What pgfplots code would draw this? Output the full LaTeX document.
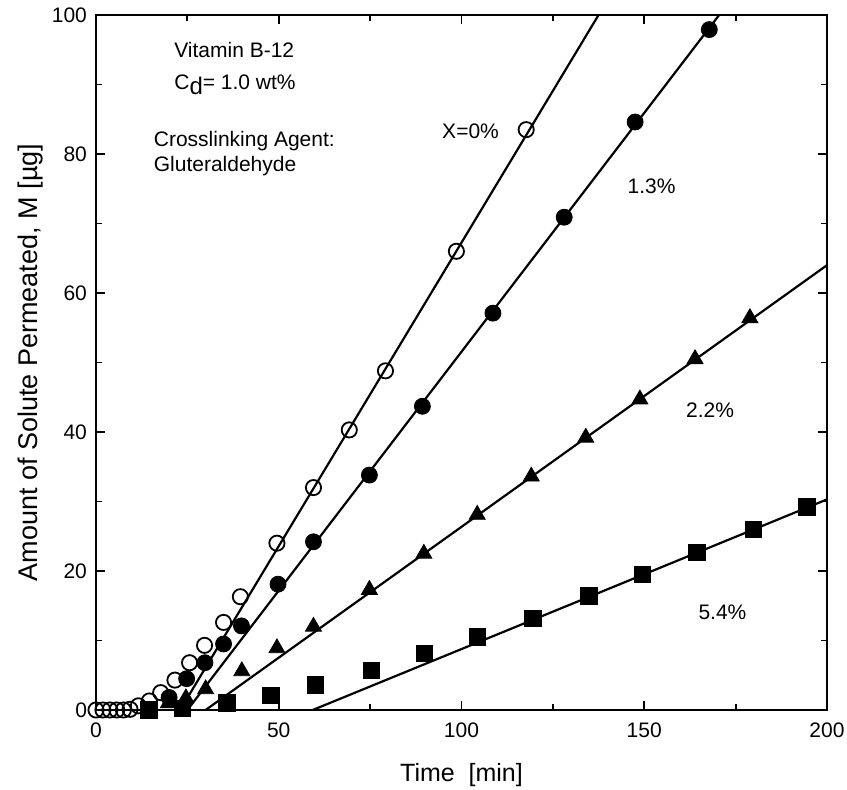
\documentclass[border=0pt]{standalone}
\usepackage{fontspec}
\setmainfont{Liberation Sans}
\usepackage{pgfplots}
\pgfplotsset{compat=1.18}
\begin{document}
\begin{tikzpicture}
\useasboundingbox (-48pt,-40pt) rectangle (375.5pt,355pt);
\begin{axis}[
  at={(0,0)}, anchor=south west,
  scale only axis, width=365.5pt, height=347.5pt,
  xmin=0, xmax=200, ymin=0, ymax=100,
  xtick={0,50,...,200}, ytick={0,20,...,100},
  minor x tick num=1, minor y tick num=1,
  tick align=inside, major tick length=4.5pt, minor tick length=3pt,
  axis line style={line width=1.2pt},
  every tick/.style={black, line width=0.9pt},
  /pgf/number format/assume math mode=true,
  xticklabel style={font=\fontsize{10.5}{12}\selectfont, yshift=-3pt},
  yticklabel style={font=\fontsize{10.5}{12}\selectfont, xshift=-1pt},
  xlabel={Time\ \ [min]},
  ylabel={Amount of Solute Permeated, M [µg]},
  xlabel style={font=\fontsize{12.5}{14}\selectfont, at={(axis description cs:0.5,-0.0935)}, anchor=center},
  ylabel style={font=\fontsize{13.5}{15}\selectfont, at={(axis description cs:-0.09,0.5)}, anchor=center},
  clip=false,
]
% X = 0 %
\addplot[only marks, mark=o, mark size=3.8pt, mark options={line width=0.9pt}] coordinates {
 (0,0) (1.9,0) (3.8,0) (5.7,0) (7.5,0) (9.3,0.1) (11.6,0.6) (14.6,1.3) (17.7,2.5)
 (21.6,4.3) (25.6,6.8) (29.7,9.3) (34.9,12.6) (39.5,16.3) (49.5,24.0)
 (59.5,32.0) (69.3,40.3) (79.2,48.8) (98.6,66.0) (117.7,83.5)
};
% X = 1.3 %
\addplot[only marks, mark=*, mark size=4pt] coordinates {
 (20,1.8) (24.8,4.5) (29.8,6.8) (34.9,9.5) (39.8,12.1) (49.8,18.1) (59.5,24.2)
 (74.8,33.8) (89.3,43.7) (108.6,57.1) (128.1,70.9) (147.5,84.6) (167.8,97.9)
};
% X = 2.2 %
\addplot[only marks, mark=triangle*, mark size=4.6pt] coordinates {
 (19.8,1.0) (24.6,1.7) (30,3.0) (39.9,5.6) (49.5,8.9) (59.5,12.0) (74.8,17.3)
 (89.7,22.5) (104.3,28.1) (119.1,33.6) (134,39.2) (148.8,44.7) (163.9,50.5) (178.9,56.4)
};
% X = 5.4 %
\addplot[only marks, mark=square*, mark size=4.1pt] coordinates {
 (14.5,0) (23.6,0.2) (35.8,1.0) (47.8,2.1) (60,3.6) (75.3,5.7) (89.9,8.1)
 (104.3,10.5) (119.5,13.2) (134.9,16.4) (149.5,19.5) (164.4,22.7) (179.8,26.0) (194.5,29.2)
};
% fitted lines
\addplot[no marks, line width=1.1pt] coordinates {(23,0) (137.5,100)};
\addplot[no marks, line width=1.1pt] coordinates {(25,0) (170.5,100)};
\addplot[no marks, line width=1.1pt] coordinates {(30,0) (200,64)};
\addplot[no marks, line width=1.1pt] coordinates {(59.3,0) (200,30.3)};
% annotations
\node[anchor=west, font=\fontsize{10.5}{12}\selectfont] at (axis cs:19.5,95.0) {Vitamin B-12};
\node[anchor=west, font=\fontsize{10.5}{12}\selectfont] at (axis cs:19.5,89.9) {C\raisebox{-0.45ex}{\fontsize{12}{12}\selectfont d}= 1.0 wt\%};
\node[anchor=west, font=\fontsize{10.5}{12}\selectfont] at (axis cs:13.9,81.8) {Crosslinking Agent:};
\node[anchor=west, font=\fontsize{10.5}{12}\selectfont] at (axis cs:13.9,78.2) {Gluteraldehyde};
\node[anchor=west, font=\fontsize{10.5}{12}\selectfont] at (axis cs:92.8,83.2) {X=0\%};
\node[anchor=center, font=\fontsize{10.5}{12}\selectfont] at (axis cs:152,75.3) {1.3\%};
\node[anchor=center, font=\fontsize{10.5}{12}\selectfont] at (axis cs:168,43.2) {2.2\%};
\node[anchor=center, font=\fontsize{10.5}{12}\selectfont] at (axis cs:171.4,14.1) {5.4\%};
\end{axis}
\end{tikzpicture}
\end{document}
